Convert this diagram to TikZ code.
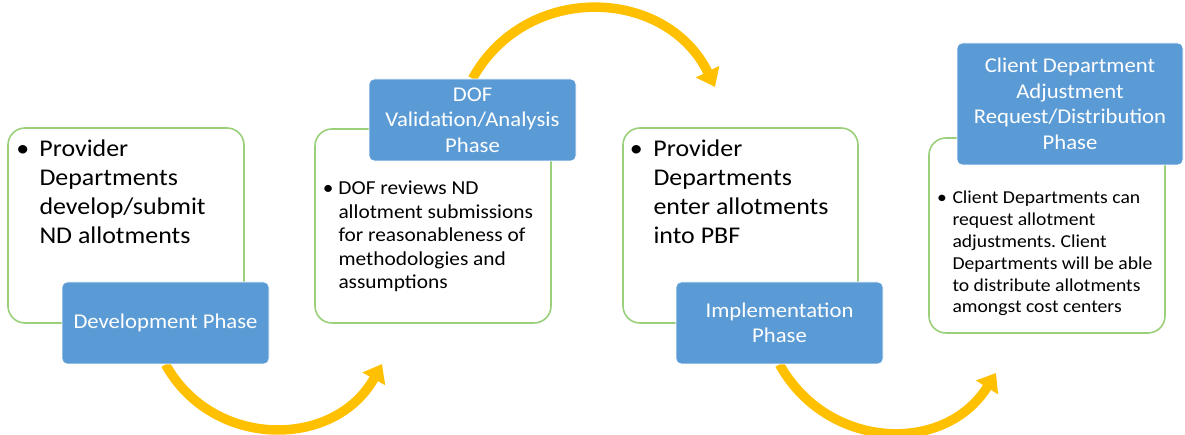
\documentclass[tikz,border=0pt]{standalone}
\usepackage{fontspec}
\setmainfont{Carlito}[FakeStretch=1.08]
\usetikzlibrary{arrows.meta,backgrounds}
\frenchspacing

\definecolor{phaseblue}{HTML}{5B9BD5}
\definecolor{stagegreen}{HTML}{9BD07A}
\definecolor{flowyellow}{HTML}{FFC000}

% bullet set at the anchor, lines of text after a gap
\newcommand{\bulletlist}[2]{%
  \begin{tabular}[t]{@{}l@{\hspace{#1}}l@{}}\makebox[0pt]{\textbullet} & #2\end{tabular}}

\begin{document}
\begin{tikzpicture}[x=1pt, y=1pt, >={Triangle[length=17pt, width=25pt]}, line join=round,
    stagebox/.style={draw=stagegreen, line width=1.6pt, fill=white, rounded corners=17pt, inner sep=0pt},
    phasebox/.style={draw=white, line width=0.8pt, fill=phaseblue, rounded corners=5pt, inner sep=0pt,
                     text=white, align=center, font=\fontsize{21}{25.5}\selectfont},
    flow/.style={->, draw=flowyellow, line width=9.5pt},
    bodytext/.style={anchor=base west, inner sep=0pt}]

          % Fix the page to the size of the slide
          \useasboundingbox (0,0) rectangle (1185,435);

          % Tips of the three yellow arrows
          \coordinate (TipA) at (382,71);    % below the DOF box
          \coordinate (TipB) at (715,348);   % above the third box
          \coordinate (TipC) at (996,62);    % below the client box

          % Draw the green stage boxes
          \node[stagebox, minimum width=236pt, minimum height=195pt] (DevBox)    at (126,209.5) {};
          \node[stagebox, minimum width=236pt, minimum height=194pt] (DofBox)    at (433,209) {};
          \node[stagebox, minimum width=235pt, minimum height=195pt] (ImplBox)   at (740.5,209.5) {};
          \node[stagebox, minimum width=236pt, minimum height=195pt] (ClientBox) at (1047,199.5) {};

          % Bullet text inside the green boxes
          \node[bodytext, font=\fontsize{24}{29}\selectfont] (DevText) at (22.7,278)
               {\bulletlist{16.6pt}{Provider\\ & Departments\\ & develop/submit\\ & ND allotments}};
          \node[bodytext, font=\fontsize{19.8}{23.5}\selectfont] (DofText) at (328,240)
               {\bulletlist{10.3pt}{DOF reviews ND\\ & allotment submissions\\ & for reasonableness of\\ & methodologies and\\ & assumptions}};
          \node[bodytext, font=\fontsize{24}{29}\selectfont] (ImplText) at (636,278)
               {\bulletlist{17.3pt}{Provider\\ & Departments\\ & enter allotments\\ & into PBF}};
          \node[bodytext, font=\fontsize{18.2}{21.8}\selectfont] (ClientText) at (941.7,231)
               {\bulletlist{10.6pt}{Client Departments can\\ & request allotment\\ & adjustments. Client\\ & Departments will be able\\ & to distribute allotments\\ & amongst cost centers}};

          % Draw the blue phase labels on top of the boxes
          \node[phasebox, minimum width=207pt, minimum height=82pt] (DevPhase)  at (165.5,112) {Development Phase};
          \node[phasebox, minimum width=207pt, minimum height=82pt] (DofPhase)  at (472.5,315) {DOF\\Validation/Analysis\\Phase};
          \node[phasebox, minimum width=207pt, minimum height=82pt] (ImplPhase) at (779.5,112) {Implementation\\Phase};
          \node[phasebox, minimum width=226pt, minimum height=122pt] (ClientPhase) at (1070,331)
               {Client Department\\Adjustment\\Request/Distribution\\Phase};

          % Draw the yellow arrows behind the labels
          \begin{scope}[on background layer]
               \draw[flow] (DevPhase.south) to[out=-61, in=241, looseness=1.15] (TipA);
               \draw[flow] (DofPhase.north) to[out=61, in=116, looseness=1.17] (TipB);
               \draw[flow] (ImplPhase.south) to[out=-61, in=238, looseness=1.15] (TipC);
          \end{scope}
        \end{tikzpicture}
\end{document}
